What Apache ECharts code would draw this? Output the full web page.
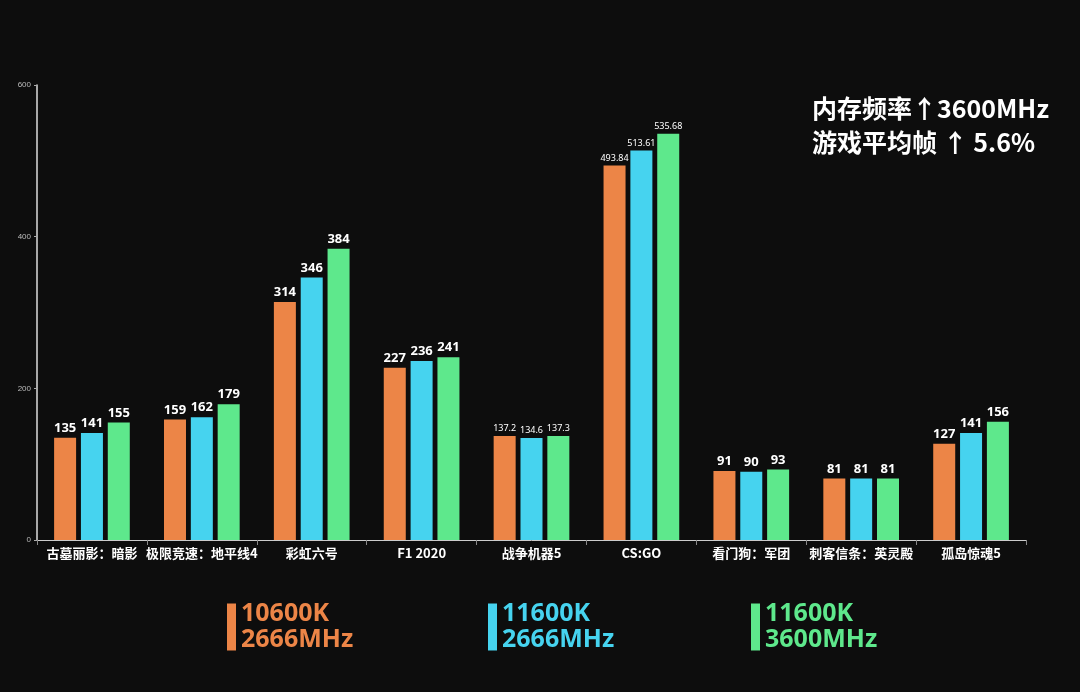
<!DOCTYPE html>
<html><head><meta charset="utf-8">
<script src="https://cdn.jsdelivr.net/npm/echarts@6/dist/echarts.min.js"></script>
<style>html,body{margin:0;padding:0;background:#0d0d0d}#c{width:1080px;height:692px}</style>
</head><body><div id="c"></div>
<script>
const categories = ['古墓丽影：暗影','极限竞速：地平线4','彩虹六号','F1 2020','战争机器5','CS:GO','看门狗：军团','刺客信条：英灵殿','孤岛惊魂5'];
const seriesNames = ['10600K\n2666MHz','11600K\n2666MHz','11600K\n3600MHz'];
const s10600_2666 = [135,159,314,227,137.2,493.84,91,81,127];
const s11600_2666 = [141,162,346,236,134.6,513.61,90,81,141];
const s11600_3600 = [155,179,384,241,137.3,535.68,93,81,156];
const yTicks = [0,200,400,600];
const colors = ['#EC8547','#46D3EF','#5EE88C'];
const values = [s10600_2666, s11600_2666, s11600_3600];
const legendLefts = [222, 483, 746];

function mkData(arr){
  return arr.map(v => Number.isInteger(v) ? v : {value: v, label: {fontSize: 9, fontWeight: 'normal'}});
}
const chart = echarts.init(document.getElementById('c'));
chart.setOption({
  backgroundColor: '#0d0d0d',
  animation: false,
  title: {
    text: '内存频率↑3600MHz\n游戏平均帧 ↑ 5.6%',
    left: 807, top: 86,
    textStyle: {color: '#ffffff', fontSize: 25, fontWeight: 'bold', lineHeight: 34, fontFamily: 'Noto Sans CJK SC'}
  },
  legend: seriesNames.map((n,i)=>({
    left: legendLefts[i], top: 596,
    itemWidth: 9, itemHeight: 47,
    icon: 'rect',
    data: [{name:n, textStyle:{color: colors[i]}}],
    textStyle: {fontSize: 25, lineHeight: 26, fontWeight: 'bold', fontFamily: 'Noto Sans'}
  })),
  grid: {left: 37, right: 54, top: 85, bottom: 152},
  xAxis: {
    type: 'category', data: categories,
    axisLine: {lineStyle: {color: '#cccccc', width: 1}},
    axisTick: {show: true, lineStyle:{color:'#888'}},
    axisLabel: {color: '#ffffff', fontSize: 13, fontWeight: 'bold', margin: 7, interval: 0, fontFamily: 'Noto Sans CJK SC'}
  },
  yAxis: {
    type: 'value', min: yTicks[0], max: yTicks[yTicks.length-1], interval: 200,
    axisLine: {show: true, lineStyle: {color: '#dddddd', width: 1.5}},
    axisTick: {show: true, length: 3, lineStyle:{color:'#aaa'}},
    axisLabel: {color: '#bbbbbb', fontSize: 8, margin: 6},
    splitLine: {show: false}
  },
  series: values.map((arr,i)=>({
    name: seriesNames[i], type: 'bar', data: mkData(arr),
    barWidth: 22, barGap: '22%',
    itemStyle: {color: colors[i]},
    label: {show: true, position: 'top', color: '#ffffff', fontSize: 13, fontWeight: 'bold', distance: 3, fontFamily: 'Noto Sans'}
  }))
});
</script></body></html>
